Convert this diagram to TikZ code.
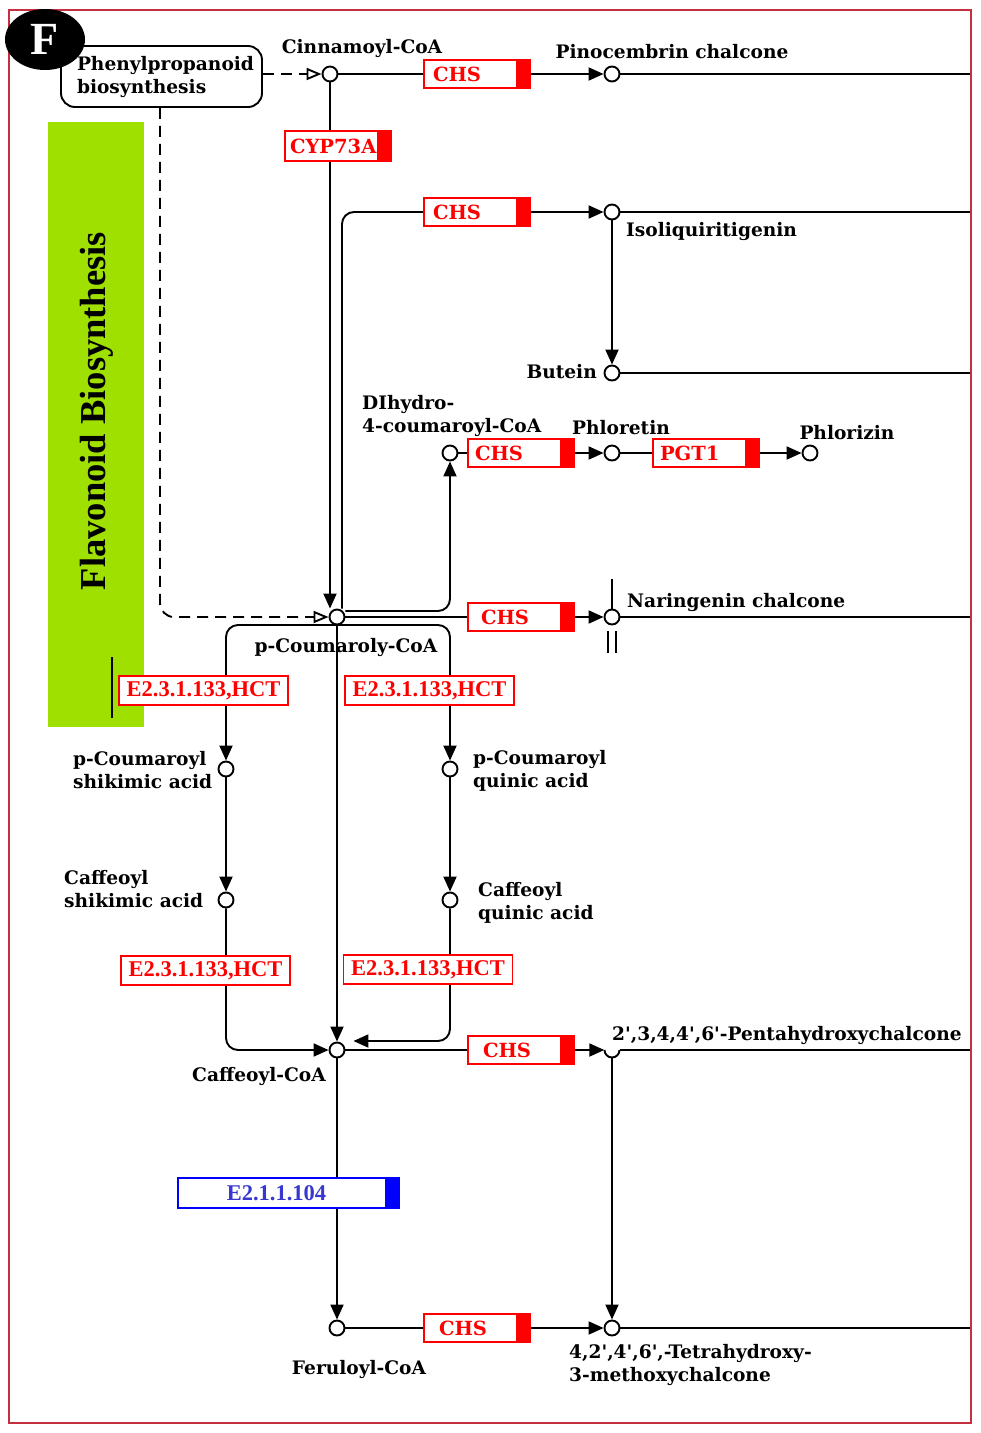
\documentclass[tikz,border=0pt]{standalone}
\usepackage{fontspec}
\newfontfamily\dvs{DejaVu Serif}
\newfontfamily\lbs{Liberation Serif}
\usetikzlibrary{arrows.meta,shapes.geometric,calc}
\pgfdeclarelayer{bg}\pgfsetlayers{bg,main}
\definecolor{bord}{HTML}{C4303F}
\definecolor{lime}{HTML}{A0E000}
\definecolor{eblue}{HTML}{0000FF}
\definecolor{etxt}{HTML}{3838D0}
\begin{document}
\begin{tikzpicture}[x=1pt,y=-1pt,
  ln/.style={line width=1.9pt},
  arr/.style={ln,-{Triangle[length=15pt,width=13pt]}},
  dline/.style={line width=1.9pt,dash pattern=on 11pt off 7pt},
  cpd/.style={circle,draw,fill=white,line width=1.9pt,minimum size=15pt,inner sep=0pt},
  lb/.style={font=\dvs\bfseries\fontsize{18.6}{23}\selectfont,inner sep=0pt,align=left},
  enz/.style={draw=red,fill=white,line width=1.4pt,text=red,minimum height=28pt,inner sep=0pt,
    text width=#1,align=left,font=\dvs\bfseries\fontsize{19.5}{22}\selectfont},
  ebar/.style={path picture={\fill[#1] ([xshift=-14pt]path picture bounding box.north east) rectangle (path picture bounding box.south east);}},
  hct/.style={draw=red,fill=white,line width=1.4pt,text=red,minimum height=29pt,minimum width=169pt,inner sep=0pt,
    font=\lbs\bfseries\fontsize{22.5}{23}\selectfont}
]
\useasboundingbox (0,0) rectangle (981,1433);
\coordinate (R) at (971,0);
% frame
\draw[bord,line width=1.8pt] (9,10) rectangle (R |- 0,1423);
% green band
\fill[lime] (48,122) rectangle (144,727);
\node[rotate=90,inner sep=0pt,font=\lbs\bfseries\fontsize{36.5}{36}\selectfont] (flav) at (97,411) {Flavonoid Biosynthesis};
\draw[ln] (112,657) -- (112,718);

% Phenylpropanoid box and F
\node[draw,line width=1.9pt,rounded corners=14pt,minimum height=61pt,text width=201pt,inner xsep=0pt,align=left,
  font=\dvs\bfseries\fontsize{18.6}{23}\selectfont] (phen) at (161.5,76.5) {\raisebox{-3pt}{\hspace*{16pt}Phenylpropanoid}\\\raisebox{-3pt}{\hspace*{16pt}biosynthesis}};
\node[ellipse,fill=black,minimum width=80pt,minimum height=61pt,inner sep=0pt,text=white,
  font=\lbs\bfseries\fontsize{46}{46}\selectfont] (F) at (45,39.5) {F};

% compounds
\node[cpd] (cin) at (330,74) {};
\node[cpd] (pino) at (612,74) {};
\node[cpd] (iso) at (612,212) {};
\node[cpd] (but) at (612,373) {};
\node[cpd] (dih) at (450,453) {};
\node[cpd] (phl) at (612,453) {};
\node[cpd] (phz) at (810,453) {};
\node[cpd] (pcoa) at (337,617) {};
\node[cpd] (nar) at (612,617) {};
\node[cpd] (pcs) at (226,769) {};
\node[cpd] (pcq) at (450,769) {};
\node[cpd] (cs) at (226,900) {};
\node[cpd] (cq) at (450,900) {};
\node[cpd] (caf) at (337,1050) {};
\node[circle,minimum size=15pt,inner sep=0pt] (penta) at (612,1050) {};
\node[cpd] (fer) at (337,1328) {};
\node[cpd] (tetra) at (612,1328) {};
\draw[ln] ([xshift=-7.5pt]penta.center) arc[start angle=180,end angle=360,radius=7.5pt];

% enzymes
\node[enz=106pt,ebar=red] (chs1) at (477,74) {\hspace*{9pt}CHS};
\node[enz=106pt,ebar=red,minimum height=30pt] (cyp) at (338,146) {\hspace*{5pt}CYP73A};
\node[enz=106pt,ebar=red] (chs2) at (477,212) {\hspace*{9pt}CHS};
\node[enz=106pt,ebar=red] (chs3) at (521,453) {\hspace*{7pt}CHS};
\node[enz=106pt,ebar=red] (pgt) at (706,453) {\hspace*{7pt}PGT1};
\node[enz=106pt,ebar=red] (chs4) at (521,617) {\hspace*{13pt}CHS};
\node[hct] (hct1) at (203.5,690.5) {E2.3.1.133,HCT};
\node[hct] (hct2) at (429.5,690.5) {E2.3.1.133,HCT};
\node[hct] (hct3) at (205.5,970.5) {E2.3.1.133,HCT};
\node[hct] (hct4) at (428,969.5) {E2.3.1.133,HCT};
\node[enz=106pt,ebar=red] (chs5) at (521,1050) {\hspace*{15pt}CHS};
\node[draw=eblue,fill=white,line width=1.4pt,text=etxt,minimum height=30pt,minimum width=221pt,inner sep=0pt,
  ebar=eblue,font=\lbs\bfseries\fontsize{22.5}{23}\selectfont] (e21) at (288.5,1193) {E2.1.1.104\hspace*{24pt}};
\node[enz=106pt,ebar=red] (chs6) at (477,1328) {\hspace*{15pt}CHS};

% labels
\node[lb] (tcin) at (362,48) {Cinnamoyl-CoA};
\node[lb] (tpino) at (672,52) {Pinocembrin chalcone};
\node[lb,anchor=west] (tiso) at (626,231) {Isoliquiritigenin};
\node[lb,anchor=east] (tbut) at (597,372) {Butein};
\node[lb,anchor=west] (tdih) at (362,416) {DIhydro-\\4-coumaroyl-CoA};
\node[lb] (tphl) at (621,428) {Phloretin};
\node[lb] (tphz) at (847,433) {Phlorizin};
\node[lb,anchor=west] (tnar) at (627,602) {Naringenin chalcone};
\node[lb] (tpcoa) at (346,647) {p-Coumaroly-CoA};
\node[lb,anchor=west] (tpcs) at (73,770) {p-Coumaroyl\\shikimic acid};
\node[lb,anchor=west] (tpcq) at (473,771) {p-Coumaroyl\\quinic acid};
\node[lb,anchor=west] (tcs) at (64,889) {Caffeoyl\\shikimic acid};
\node[lb,anchor=west] (tcq) at (478,903) {Caffeoyl\\quinic acid};
\node[lb] (tcaf) at (259,1076) {Caffeoyl-CoA};
\node[lb,anchor=west] (tpenta) at (612,1035) {2',3,4,4',6'-Pentahydroxychalcone};
\node[lb] (tfer) at (359,1369) {Feruloyl-CoA};
\node[lb,anchor=west] (ttetra) at (569,1365) {4,2',4',6',-Tetrahydroxy-\\3-methoxychalcone};

% connectors
\begin{pgfonlayer}{bg}
\draw[dline,-{Triangle[open,fill=white,length=15pt,width=12pt]}] (phen.east |- cin) -- (cin);
\draw[dline,rounded corners=14pt,-{Triangle[open,fill=white,length=15pt,width=12pt]}] ([xshift=-1.5pt]phen.south) |- (pcoa.west);
\draw[ln] (cin) -- (chs1.west);
\draw[arr] (chs1.east) -- (pino);
\draw[ln] (pino) -- (pino -| R);
\draw[arr] (cin) -- ([xshift=-7pt]pcoa.north);
\draw[ln,rounded corners=12pt] ([xshift=5pt]pcoa.north) |- (chs2.west);
\draw[arr] (chs2.east) -- (iso);
\draw[ln] (iso) -- (iso -| R);
\draw[arr] (iso) -- (but);
\draw[ln] (but) -- (but -| R);
\draw[arr,rounded corners=12pt] ([yshift=6pt]pcoa.east) -| (dih.south);
\draw[ln] (dih) -- (chs3.west);
\draw[arr] (chs3.east) -- (phl);
\draw[ln] (phl) -- (pgt.west);
\draw[arr] (pgt.east) -- (phz);
\draw[ln] (pcoa) -- (chs4.west);
\draw[arr] (chs4.east) -- (nar);
\draw[ln] (nar) -- (nar -| R);
\draw[ln] (nar.north) -- ++(0,-30);
\draw[ln] ([xshift=-4pt,yshift=-6pt]nar.south) -- ++(0,22);
\draw[ln] ([xshift=4pt,yshift=-6pt]nar.south) -- ++(0,22);
\draw[arr,rounded corners=12pt] ([yshift=-8pt]pcoa.center) -| (pcs.north);
\draw[arr,rounded corners=12pt] ([yshift=-8pt]pcoa.center) -| (pcq.north);
\draw[arr] (pcs) -- (cs);
\draw[arr] (pcq) -- (cq);
\draw[arr,rounded corners=12pt] (cs) |- (caf);
\draw[arr,rounded corners=12pt] (cq) |- ([xshift=8pt,yshift=9pt]caf.east);
\draw[arr] (pcoa) -- (caf);
\draw[ln] (caf) -- (chs5.west);
\draw[arr] (chs5.east) -- (penta.west);
\draw[ln] (penta.east) -- (penta -| R);
\draw[arr] (penta.south) -- (tetra);
\draw[arr] (caf) -- (fer);
\draw[ln] (fer) -- (chs6.west);
\draw[arr] (chs6.east) -- (tetra);
\draw[ln] (tetra) -- (tetra -| R);
\end{pgfonlayer}
\end{tikzpicture}
\end{document}
